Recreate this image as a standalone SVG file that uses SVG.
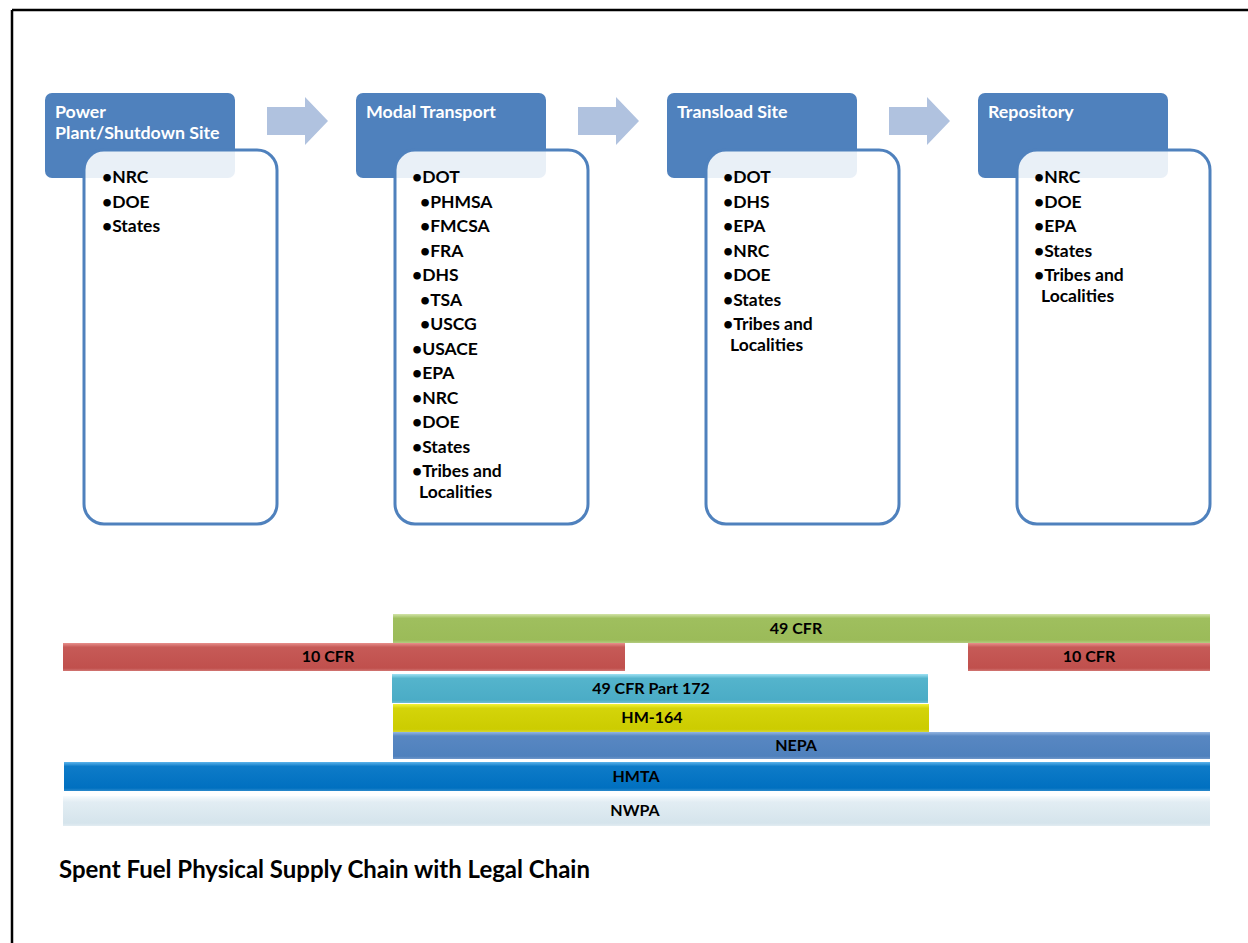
<svg xmlns="http://www.w3.org/2000/svg" width="1248" height="943" viewBox="0 0 1248 943">
<style>
.hdr{fill:#4F81BD}
.box{fill:#FFFFFF;fill-opacity:0.88;stroke:#4F81BD;stroke-width:3}
.ht{font-family:Lato,"Liberation Sans",sans-serif;font-weight:bold;font-size:17.8px;fill:#FFFFFF}
.it{font-family:Lato,"Liberation Sans",sans-serif;font-weight:bold;font-size:17.5px;fill:#000000}
.bl{font-family:Lato,"Liberation Sans",sans-serif;font-weight:bold;font-size:16px;fill:#000000;text-anchor:middle}
.arrow{fill:#B0C2DF}
.title{font-family:Lato,"Liberation Sans",sans-serif;font-weight:bold;font-size:24px;fill:#000000}
</style>
<defs>
<linearGradient id="gGreen" x1="0" y1="0" x2="0" y2="1"><stop offset="0" stop-color="#D2E4A8"/><stop offset="0.15" stop-color="#9FBF5E"/><stop offset="0.9" stop-color="#9BBB59"/><stop offset="1" stop-color="#B3CC80"/></linearGradient>
<linearGradient id="gRed" x1="0" y1="0" x2="0" y2="1"><stop offset="0" stop-color="#E8908C"/><stop offset="0.15" stop-color="#C65A57"/><stop offset="0.9" stop-color="#C0504D"/><stop offset="1" stop-color="#D27673"/></linearGradient>
<linearGradient id="gCyan" x1="0" y1="0" x2="0" y2="1"><stop offset="0" stop-color="#9EE2F4"/><stop offset="0.15" stop-color="#54B4CC"/><stop offset="0.9" stop-color="#4BACC6"/><stop offset="1" stop-color="#6EBED3"/></linearGradient>
<linearGradient id="gYellow" x1="0" y1="0" x2="0" y2="1"><stop offset="0" stop-color="#F2F23A"/><stop offset="0.15" stop-color="#D4D40A"/><stop offset="0.9" stop-color="#CCCC00"/><stop offset="1" stop-color="#D8D830"/></linearGradient>
<linearGradient id="gNepa" x1="0" y1="0" x2="0" y2="1"><stop offset="0" stop-color="#94B6E2"/><stop offset="0.15" stop-color="#5887C2"/><stop offset="0.9" stop-color="#4F81BD"/><stop offset="1" stop-color="#6E97CA"/></linearGradient>
<linearGradient id="gHmta" x1="0" y1="0" x2="0" y2="1"><stop offset="0" stop-color="#5CB4EC"/><stop offset="0.15" stop-color="#0E7BC8"/><stop offset="0.9" stop-color="#0070C0"/><stop offset="1" stop-color="#2C8ACC"/></linearGradient>
<linearGradient id="gNwpa" x1="0" y1="0" x2="0" y2="1"><stop offset="0" stop-color="#F8FCFE"/><stop offset="0.2" stop-color="#E2EDF3"/><stop offset="0.9" stop-color="#D5E4EC"/><stop offset="1" stop-color="#E2ECF2"/></linearGradient>
</defs>

<g id="frame">
<line x1="12" y1="10" x2="1248" y2="10" stroke="#000000" stroke-width="2.5"/>
<line x1="12" y1="10" x2="12" y2="943" stroke="#000000" stroke-width="2.5"/>
</g>

<g id="connectors">
<polygon class="arrow" points="267,107 305,107 305,97 328,121 305,145 305,135 267,135"/>
<polygon class="arrow" points="578,107 616,107 616,97 639,121 616,145 616,135 578,135"/>
<polygon class="arrow" points="889,107 927,107 927,97 950,121 927,145 927,135 889,135"/>
</g>

<g id="node-power-plant">
<rect class="hdr" x="45" y="93" width="190" height="85" rx="7"/>
<rect class="box" x="84" y="150" width="193" height="374" rx="20"/>
<text class="ht" x="55" y="118">Power</text>
<text class="ht" x="55" y="139">Plant/Shutdown Site</text>
<text class="it" x="102" y="183">•NRC</text>
<text class="it" x="102" y="207.5">•DOE</text>
<text class="it" x="102" y="232">•States</text>
</g>

<g id="node-modal-transport">
<rect class="hdr" x="356" y="93" width="190" height="85" rx="7"/>
<rect class="box" x="395" y="150" width="193" height="374" rx="20"/>
<text class="ht" x="366" y="118">Modal Transport</text>
<text class="it" x="412" y="183">•DOT</text>
<text class="it" x="420" y="207.5">•PHMSA</text>
<text class="it" x="420" y="232">•FMCSA</text>
<text class="it" x="420" y="256.5">•FRA</text>
<text class="it" x="412" y="281">•DHS</text>
<text class="it" x="420" y="305.5">•TSA</text>
<text class="it" x="420" y="330">•USCG</text>
<text class="it" x="412" y="354.5">•USACE</text>
<text class="it" x="412" y="379">•EPA</text>
<text class="it" x="412" y="403.5">•NRC</text>
<text class="it" x="412" y="428">•DOE</text>
<text class="it" x="412" y="452.5">•States</text>
<text class="it" x="412" y="477">•Tribes and</text>
<text class="it" x="419" y="498">Localities</text>
</g>

<g id="node-transload-site">
<rect class="hdr" x="667" y="93" width="190" height="85" rx="7"/>
<rect class="box" x="706" y="150" width="193" height="374" rx="20"/>
<text class="ht" x="677" y="118">Transload Site</text>
<text class="it" x="723" y="183">•DOT</text>
<text class="it" x="723" y="207.5">•DHS</text>
<text class="it" x="723" y="232">•EPA</text>
<text class="it" x="723" y="256.5">•NRC</text>
<text class="it" x="723" y="281">•DOE</text>
<text class="it" x="723" y="305.5">•States</text>
<text class="it" x="723" y="330">•Tribes and</text>
<text class="it" x="730" y="351">Localities</text>
</g>

<g id="node-repository">
<rect class="hdr" x="978" y="93" width="190" height="85" rx="7"/>
<rect class="box" x="1017" y="150" width="193" height="374" rx="20"/>
<text class="ht" x="988" y="118">Repository</text>
<text class="it" x="1034" y="183">•NRC</text>
<text class="it" x="1034" y="207.5">•DOE</text>
<text class="it" x="1034" y="232">•EPA</text>
<text class="it" x="1034" y="256.5">•States</text>
<text class="it" x="1034" y="281">•Tribes and</text>
<text class="it" x="1041" y="302">Localities</text>
</g>

<g id="bar-49cfr">
<rect x="393" y="614" width="817" height="29" fill="url(#gGreen)"/>
<text class="bl" x="796" y="634">49 CFR</text>
</g>
<g id="bar-10cfr-left">
<rect x="63" y="643" width="562" height="28" fill="url(#gRed)"/>
<text class="bl" x="328" y="662">10 CFR</text>
</g>
<g id="bar-10cfr-right">
<rect x="968" y="643" width="242" height="28" fill="url(#gRed)"/>
<text class="bl" x="1089" y="662">10 CFR</text>
</g>
<g id="bar-49cfr-172">
<rect x="392" y="674" width="536" height="29" fill="url(#gCyan)"/>
<text class="bl" x="651" y="694">49 CFR Part 172</text>
</g>
<g id="bar-hm164">
<rect x="393" y="704" width="536" height="28" fill="url(#gYellow)"/>
<text class="bl" x="652" y="723">HM-164</text>
</g>
<g id="bar-nepa">
<rect x="393" y="732" width="817" height="27" fill="url(#gNepa)"/>
<text class="bl" x="796" y="751">NEPA</text>
</g>
<g id="bar-hmta">
<rect x="64" y="762" width="1146" height="29" fill="url(#gHmta)"/>
<text class="bl" x="636" y="782">HMTA</text>
</g>
<g id="bar-nwpa">
<rect x="63" y="796" width="1147" height="30" fill="url(#gNwpa)"/>
<text class="bl" x="635" y="816">NWPA</text>
</g>

<text class="title" x="59" y="878" textLength="531" lengthAdjust="spacingAndGlyphs">Spent Fuel Physical Supply Chain with Legal Chain</text>
</svg>
